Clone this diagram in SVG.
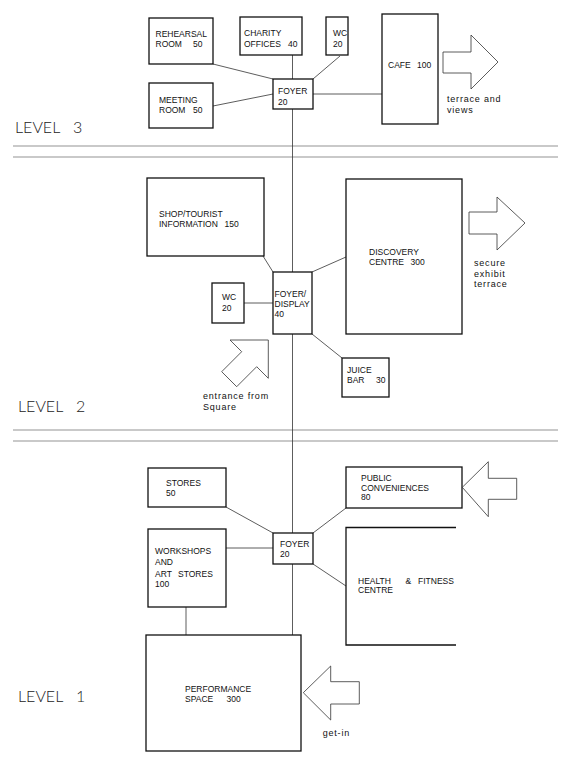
<svg xmlns="http://www.w3.org/2000/svg" width="576" height="760" viewBox="0 0 576 760">
<style>
.box{fill:none;stroke:#111;stroke-width:1.3}
.con{fill:none;stroke:#333;stroke-width:0.8}
.sep{fill:none;stroke:#666;stroke-width:0.7}
.arr{fill:none;stroke:#333;stroke-width:0.8;stroke-linejoin:miter}
.t{font-family:"Liberation Sans",Arial,sans-serif;font-size:8.5px;fill:#111}
.lc{font-family:"Liberation Sans",Arial,sans-serif;font-size:9px;letter-spacing:0.8px;fill:#111}
.lvl{font-family:"Lato","Liberation Sans",sans-serif;font-weight:300;font-size:16px;fill:#222;word-spacing:9px}
</style>
<rect x="0" y="0" width="576" height="760" fill="#fff"/>

<g id="separators">
<line class="sep" x1="13" y1="146" x2="558" y2="146"/>
<line class="sep" x1="13" y1="157" x2="558" y2="157"/>
<line class="sep" x1="13" y1="430" x2="558" y2="430"/>
<line class="sep" x1="13" y1="441" x2="558" y2="441"/>
</g>

<g id="level-labels">
<text class="lvl" x="15" y="133">LEVEL 3</text>
<text class="lvl" x="18" y="412">LEVEL 2</text>
<text class="lvl" x="18" y="702">LEVEL 1</text>
</g>

<g id="connectors">
<line class="con" x1="292.5" y1="55" x2="292.5" y2="79"/>
<line class="con" x1="292.5" y1="109" x2="292.5" y2="272"/>
<line class="con" x1="292.5" y1="334" x2="292.5" y2="533"/>
<line class="con" x1="292.5" y1="564" x2="292.5" y2="635"/>
<line class="con" x1="213" y1="64" x2="273" y2="79"/>
<line class="con" x1="213" y1="106" x2="273" y2="94"/>
<line class="con" x1="340" y1="56" x2="313" y2="79"/>
<line class="con" x1="313" y1="94" x2="382" y2="94"/>
<line class="con" x1="263" y1="256" x2="273" y2="272"/>
<line class="con" x1="244" y1="303" x2="273" y2="303"/>
<line class="con" x1="312" y1="272" x2="346" y2="257"/>
<line class="con" x1="312" y1="334" x2="342" y2="358"/>
<line class="con" x1="226" y1="507" x2="273" y2="533"/>
<line class="con" x1="226" y1="548" x2="273" y2="548"/>
<line class="con" x1="313" y1="533" x2="346" y2="508"/>
<line class="con" x1="313" y1="564" x2="346" y2="586"/>
<line class="con" x1="186" y1="607" x2="186" y2="635" stroke="#999"/>
</g>

<g id="rehearsal-room">
<rect class="box" x="149" y="18" width="64" height="46"/>
<text class="t" x="155.5" y="37.3">REHEARSAL</text>
<text class="t" y="46.7"><tspan x="155.5">ROOM</tspan><tspan x="193">50</tspan></text>
</g>
<g id="charity-offices">
<rect class="box" x="240" y="17" width="62" height="38"/>
<text class="t" x="244" y="35.7">CHARITY</text>
<text class="t" y="46.7"><tspan x="244">OFFICES</tspan><tspan x="288">40</tspan></text>
</g>
<g id="wc-level3">
<rect class="box" x="326" y="17" width="22" height="38"/>
<text class="t" x="333" y="35.7">WC</text>
<text class="t" x="333" y="46.7">20</text>
</g>
<g id="meeting-room">
<rect class="box" x="149" y="83" width="64" height="45"/>
<text class="t" x="159" y="102.7">MEETING</text>
<text class="t" y="112.7"><tspan x="159">ROOM</tspan><tspan x="193">50</tspan></text>
</g>
<g id="foyer-level3">
<rect class="box" x="273" y="79" width="40" height="30"/>
<text class="t" x="278" y="94.3">FOYER</text>
<text class="t" x="278" y="105">20</text>
</g>
<g id="cafe">
<rect class="box" x="382" y="14" width="56" height="110"/>
<text class="t" y="68"><tspan x="388">CAFE</tspan><tspan x="417">100</tspan></text>
</g>
<g id="arrow-terrace">
<polygon class="arr" points="443,52 471,52 471,35 498,62 471,89 471,73 443,73"/>
<text class="lc" x="447" y="102">terrace and</text>
<text class="lc" x="447" y="112.5">views</text>
</g>

<g id="shop-tourist">
<rect class="box" x="147" y="178" width="117" height="78"/>
<text class="t" x="159" y="217.3">SHOP/TOURIST</text>
<text class="t" y="227.3"><tspan x="159">INFORMATION</tspan><tspan x="224.5">150</tspan></text>
</g>
<g id="foyer-display">
<rect class="box" x="273" y="272" width="39" height="62"/>
<text class="t" x="274.5" y="297">FOYER/</text>
<text class="t" x="274.5" y="307">DISPLAY</text>
<text class="t" x="274.5" y="317">40</text>
</g>
<g id="wc-level2">
<rect class="box" x="212" y="283" width="32" height="40"/>
<text class="t" x="222" y="300">WC</text>
<text class="t" x="222" y="310.7">20</text>
</g>
<g id="discovery-centre">
<rect class="box" x="346" y="179" width="116" height="155"/>
<text class="t" x="369" y="255">DISCOVERY</text>
<text class="t" y="265"><tspan x="369">CENTRE</tspan><tspan x="410.5">300</tspan></text>
</g>
<g id="juice-bar">
<rect class="box" x="342" y="358" width="47" height="39"/>
<text class="t" x="347" y="373">JUICE</text>
<text class="t" y="383"><tspan x="347">BAR</tspan><tspan x="376">30</tspan></text>
</g>
<g id="arrow-exhibit">
<polygon class="arr" points="469,212 497,212 497,197 525,223 497,250 497,234 469,234"/>
<text class="lc" x="474" y="266">secure</text>
<text class="lc" x="474" y="276.5">exhibit</text>
<text class="lc" x="474" y="287">terrace</text>
</g>
<g id="arrow-entrance">
<polygon class="arr" points="230,340 268.3,340 268.3,378.3 256.7,366.7 236.7,386.7 221.7,371.7 241.7,351.7"/>
<text class="lc" x="203" y="399">entrance from</text>
<text class="lc" x="203" y="409.5">Square</text>
</g>

<g id="stores">
<rect class="box" x="148" y="468" width="78" height="39"/>
<text class="t" x="166" y="485.7">STORES</text>
<text class="t" x="166" y="495.7">50</text>
</g>
<g id="workshops">
<rect class="box" x="148" y="529" width="78" height="78"/>
<text class="t" x="155" y="554">WORKSHOPS</text>
<text class="t" x="155" y="565">AND</text>
<text class="t" y="576.7"><tspan x="155">ART</tspan><tspan x="178">STORES</tspan></text>
<text class="t" x="155" y="587.3">100</text>
</g>
<g id="foyer-level1">
<rect class="box" x="273" y="533" width="40" height="31"/>
<text class="t" x="280" y="547.3">FOYER</text>
<text class="t" x="280" y="556.7">20</text>
</g>
<g id="public-conveniences">
<rect class="box" x="346" y="467" width="116" height="41"/>
<text class="t" x="361" y="481">PUBLIC</text>
<text class="t" x="361" y="490.5">CONVENIENCES</text>
<text class="t" x="361" y="500">80</text>
</g>
<g id="arrow-public">
<polygon class="arr" points="462.3,487.3 488.3,461.7 488.3,478.3 516.7,478.3 516.7,499.3 488.3,499.3 488.3,516.7"/>
</g>
<g id="health-fitness">
<polyline class="box" points="456,527.5 346,527.5 346,645 456,645"/>
<text class="t" y="584"><tspan x="358">HEALTH</tspan><tspan x="405.5">&amp;</tspan><tspan x="418">FITNESS</tspan></text>
<text class="t" x="358" y="593.3">CENTRE</text>
</g>
<g id="performance-space">
<rect class="box" x="146" y="635" width="155" height="116"/>
<text class="t" x="185" y="692">PERFORMANCE</text>
<text class="t" y="702"><tspan x="185">SPACE</tspan><tspan x="226.5">300</tspan></text>
</g>
<g id="arrow-getin">
<polygon class="arr" points="303.3,692.7 330.7,666 330.7,681.7 359.3,681.7 359.3,704 330.7,704 330.7,720"/>
<text class="lc" x="322.7" y="735.7">get-in</text>
</g>
</svg>
